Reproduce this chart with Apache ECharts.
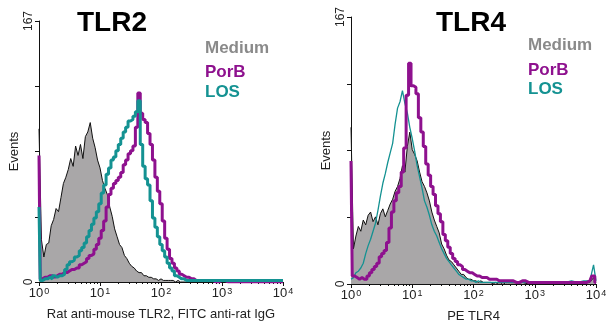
<!DOCTYPE html>
<html><head><meta charset="utf-8">
<script src="https://cdn.jsdelivr.net/npm/echarts@6/dist/echarts.min.js"></script>
<style>html,body{margin:0;padding:0;background:#fff}#c{width:612px;height:328px}</style>
</head><body><div id="c"></div>
<script>
// Channel positions as decades (log10 of fluorescence intensity)
const logChannels = [0.00,0.04,0.08,0.12,0.16,0.20,0.24,0.28,0.32,0.36,0.40,
  0.44,0.48,0.52,0.56,0.60,0.64,0.68,0.72,0.76,0.80,
  0.84,0.88,0.92,0.96,1.00,1.04,1.08,1.12,1.16,1.20,
  1.24,1.28,1.32,1.36,1.40,1.44,1.48,1.52,1.56,1.60,
  1.64,1.68,1.72,1.76,1.80,1.84,1.88,1.92,1.96,2.00,
  2.04,2.08,2.12,2.16,2.20,2.24,2.28,2.32,2.36,2.40,
  2.44,2.48,2.52,2.56,2.60,
  2.7,2.8,2.9,3.0,3.1,3.2,3.3,3.4,3.5,3.6,3.7,3.8,3.9,3.96,4.0];

// TLR2 panel (events)
const tlr2Medium = [98,27,16,24,25,36,40,47,45,54,63,
  67,72,79,74,87,81,88,79,93,96,
  102,92,86,78,73,65,60,56,48,42,
  34,29,24,22,17,15,12,10,9,7,
  6,6,4,4,3,3,2,2,1,2,
  1,1,1,1,1,0,1,0,0,0,
  0,0,0,0,0,
  0,0,0,0,0,0,0,0,0,0,0,0,0,0,0];
const tlr2PorB = [81,2,3,3,4,4,3,4,5,5,6,
  6,7,8,8,9,9,11,12,13,15,
  17,18,21,24,28,33,39,48,56,60,
  63,65,67,70,75,78,82,84,87,99,
  121,108,104,102,95,88,78,67,58,50,
  39,28,21,15,12,9,7,5,4,3,
  3,2,2,1,1,
  1,1,0,1,0,0,0,0,0,0,0,0,0,0,0];
const tlr2LOS = [48,1,2,2,3,2,4,3,4,4,5,
  8,11,13,14,16,17,20,22,25,29,
  33,37,41,45,50,57,62,69,73,78,
  80,84,88,92,96,99,103,104,106,109,
  116,88,74,66,62,52,41,35,29,24,
  20,16,12,9,7,4,3,2,2,1,
  1,1,1,1,1,
  1,1,1,1,1,1,1,1,1,1,1,1,1,1,1];

// TLR4 panel (events)
const tlr4Medium = [98,22,30,36,33,40,37,43,45,39,42,
  37,44,47,42,46,50,53,58,61,66,
  74,70,86,95,84,81,77,70,64,61,
  57,52,45,40,36,32,25,22,18,15,
  14,12,10,8,6,6,4,3,3,2,
  2,1,2,1,1,1,1,0,1,0,
  0,1,0,0,0,
  0,1,0,0,1,0,0,0,1,0,0,1,1,4,1];
const tlr4PorB = [77,5,4,3,4,3,3,5,7,9,11,
  13,17,19,21,26,35,45,52,57,61,
  70,85,118,138,124,123,119,104,95,86,
  75,68,61,56,49,44,39,31,27,23,
  19,16,14,12,11,9,8,7,7,6,
  5,5,4,4,4,3,3,3,3,2,
  2,2,2,2,2,
  1,2,1,1,1,1,1,1,1,1,1,1,2,5,1];
const tlr4LOS = [3,4,7,8,10,13,19,24,28,33,38,
  46,55,63,69,76,82,88,100,110,114,
  121,113,107,98,91,83,74,67,60,52,
  48,43,37,33,30,26,22,19,16,14,
  12,10,8,6,5,4,3,3,2,2,
  1,2,1,1,1,1,1,1,1,1,
  1,1,1,1,1,
  1,1,1,1,1,1,1,1,1,2,1,2,2,12,2];

const decadeTicks = [1, 10, 100, 1000, 10000];
const minorTicks = [2,3,4,5,6,7,8,9,20,30,40,50,60,70,80,90,200,300,400,500,600,700,800,900,2000,3000,4000,5000,6000,7000,8000,9000];
const yMax = 167;
const yLabels = [0, 167];

const FONT = 'Liberation Sans, Arial, sans-serif';
const C_MED_FILL = '#a9a7a8', C_MED_LINE = '#111111', C_PORB = '#8e118e', C_LOS = '#149292';

function pairs(counts){ return logChannels.map((e,i)=>[Math.pow(10,e), counts[i]]); }

function xAxes(gi, name){
  return [{
    type:'log', logBase:10, min:1, max:10000, gridIndex:gi, position:'bottom',
    name:name, nameLocation:'middle', nameGap:26,
    nameTextStyle:{fontFamily:FONT, fontSize:13, color:'#222'},
    axisLine:{show:true, lineStyle:{color:'#111', width:1}},
    axisTick:{show:true, length:4, lineStyle:{color:'#111'}, customValues: decadeTicks},
    axisLabel:{show:true, margin:5, customValues: decadeTicks,
      formatter: v => '{b|10}{s|' + Math.round(Math.log10(v)) + '}',
      rich:{ b:{fontFamily:FONT, fontSize:13, color:'#222'},
             s:{fontFamily:FONT, fontSize:9, color:'#222', verticalAlign:'top', padding:[0,0,0,1]} } },
    splitLine:{show:false}
  },{
    type:'log', logBase:10, min:1, max:10000, gridIndex:gi, position:'bottom',
    axisLine:{show:false},
    axisTick:{show:true, length:2, lineStyle:{color:'#111'}, customValues: minorTicks},
    axisLabel:{show:false}, splitLine:{show:false}
  }];
}
function yAxis(gi){
  return {
    type:'value', min:0, max:yMax, interval:yMax/4, gridIndex:gi,
    name:'Events', nameLocation:'middle', nameGap:18, nameRotate:90,
    nameTextStyle:{fontFamily:FONT, fontSize:13, color:'#222'},
    axisLine:{show:true, lineStyle:{color:'#111', width:1}},
    axisTick:{show:true, length:4, lineStyle:{color:'#111'}},
    axisLabel:{show:true, rotate:90, margin:4, fontFamily:FONT, fontSize:12, color:'#222',
      formatter: v => yLabels.indexOf(v) >= 0 ? String(v) : ''},
    splitLine:{show:false}
  };
}
function histo(name, data, xi, yi, color, width, fill, z, step){
  const s = {type:'line', name:name, data:pairs(data), xAxisIndex:xi, yAxisIndex:yi,
    showSymbol:false, symbol:'none', z:z, animation:false, step:step || false,
    lineStyle:{color:color, width:width}};
  if (fill) s.areaStyle = {color:fill, opacity:1};
  return s;
}

const chart = echarts.init(document.getElementById('c'), null, {renderer:'canvas'});
chart.setOption({
  backgroundColor:'#fff',
  animation:false,
  grid:[{left:39, top:21, width:244, height:261},
        {left:351, top:17, width:245, height:268}],
  xAxis:[...xAxes(0,'Rat anti-mouse TLR2, FITC anti-rat IgG'), ...xAxes(1,'PE TLR4')],
  yAxis:[yAxis(0), yAxis(1)],
  series:[
    histo('Medium', tlr2Medium, 0, 0, C_MED_LINE, 1, C_MED_FILL, 2),
    histo('PorB', tlr2PorB, 0, 0, C_PORB, 3, null, 3, 'middle'),
    histo('LOS', tlr2LOS, 0, 0, C_LOS, 3, null, 4, 'middle'),
    histo('Medium', tlr4Medium, 2, 1, C_MED_LINE, 1, C_MED_FILL, 2),
    histo('LOS', tlr4LOS, 2, 1, C_LOS, 1.3, null, 3),
    histo('PorB', tlr4PorB, 2, 1, C_PORB, 3, null, 4, 'middle')
  ],
  graphic:[
    {type:'text', x:112, y:23, style:{text:'TLR2', font:'bold 28px '+FONT, fill:'#000', textAlign:'center', textVerticalAlign:'middle'}},
    {type:'text', x:471, y:23, style:{text:'TLR4', font:'bold 28px '+FONT, fill:'#000', textAlign:'center', textVerticalAlign:'middle'}},
    {type:'text', x:205, y:48, style:{text:'Medium', font:'bold 17px '+FONT, fill:'#8a8a8a', textVerticalAlign:'middle'}},
    {type:'text', x:205, y:72, style:{text:'PorB', font:'bold 17px '+FONT, fill:C_PORB, textVerticalAlign:'middle'}},
    {type:'text', x:205, y:92, style:{text:'LOS', font:'bold 17px '+FONT, fill:C_LOS, textVerticalAlign:'middle'}},
    {type:'text', x:528, y:45, style:{text:'Medium', font:'bold 17px '+FONT, fill:'#8a8a8a', textVerticalAlign:'middle'}},
    {type:'text', x:528, y:70, style:{text:'PorB', font:'bold 17px '+FONT, fill:C_PORB, textVerticalAlign:'middle'}},
    {type:'text', x:528, y:89, style:{text:'LOS', font:'bold 17px '+FONT, fill:C_LOS, textVerticalAlign:'middle'}}
  ]
});
</script></body></html>
